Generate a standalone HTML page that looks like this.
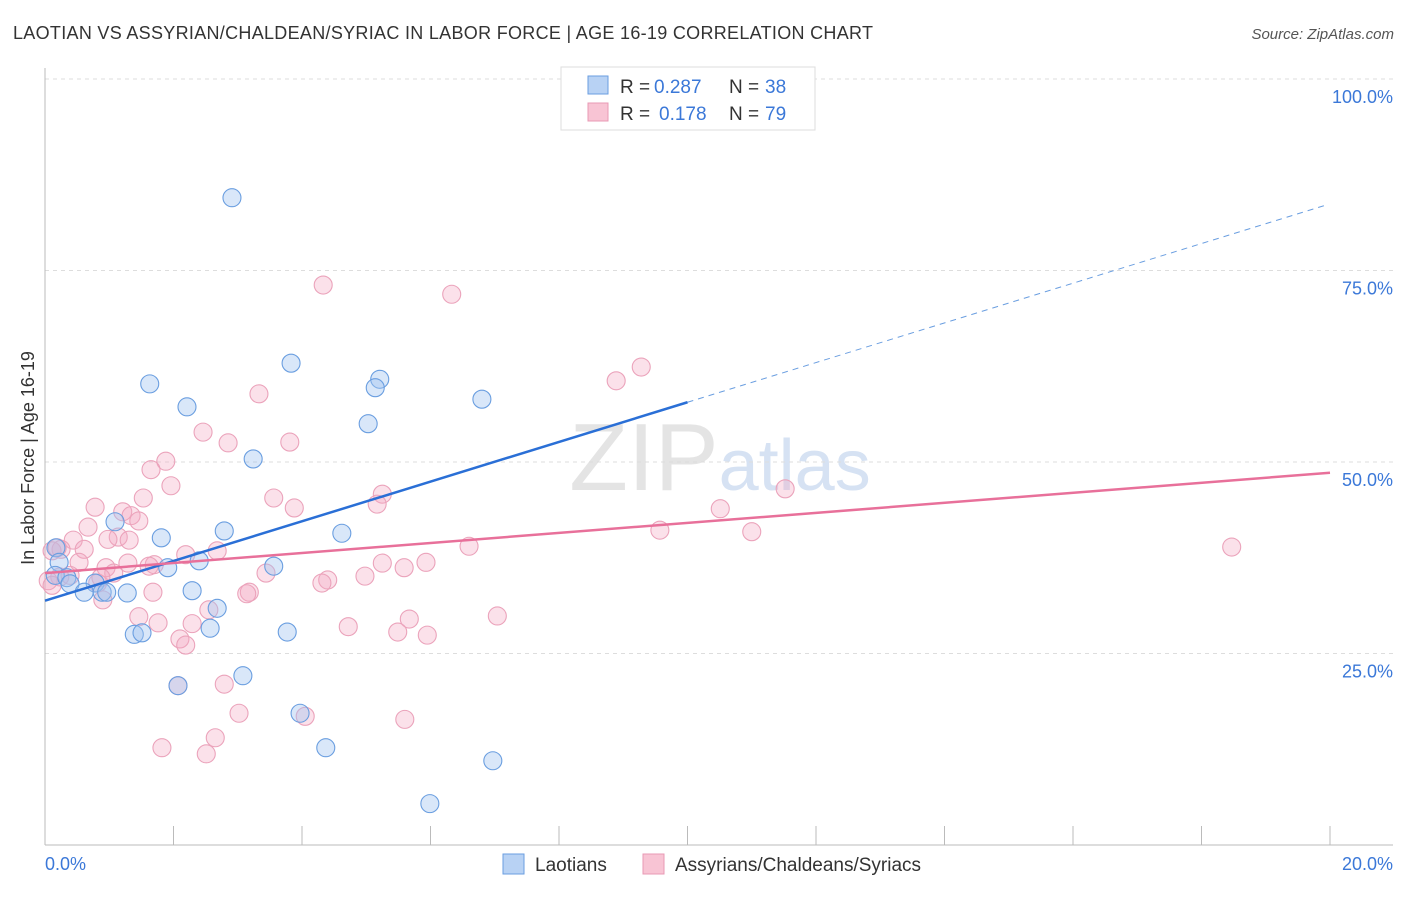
<!DOCTYPE html>
<html><head><meta charset="utf-8"><style>
body{margin:0;background:#fff;font-family:"Liberation Sans",sans-serif}
svg text{font-family:"Liberation Sans",sans-serif}
</style></head><body>
<svg width="1406" height="892" viewBox="0 0 1406 892" id="c">
<text x="13" y="39" font-size="18" fill="#333" textLength="860" lengthAdjust="spacing">LAOTIAN VS ASSYRIAN/CHALDEAN/SYRIAC IN LABOR FORCE | AGE 16-19 CORRELATION CHART</text>
<text x="1394" y="39" font-size="15" fill="#555" text-anchor="end" font-style="italic">Source: ZipAtlas.com</text>
<text x="720" y="490" font-size="96" text-anchor="middle" fill="#e4e4e4" font-family="Liberation Serif"><tspan>ZIP</tspan><tspan fill="#d6e2f3" font-family="Liberation Sans" font-size="72">atlas</tspan></text>
<text transform="translate(34,458) rotate(-90)" font-size="18" fill="#333" text-anchor="middle">In Labor Force | Age 16-19</text>
<g id="grid"></g><g id="marks"></g><g id="lines"></g>
<g>
<rect x="561" y="67" width="254" height="63" fill="#fff" stroke="#ddd"/>
<rect x="588" y="76" width="20" height="18" fill="#b8d2f4" stroke="#6a9ee0"/>
<rect x="588" y="103" width="20" height="18" fill="#f8c4d4" stroke="#e89ab4"/>
<text x="620" y="93" font-size="19" fill="#333">R =</text>
<text x="654" y="93" font-size="19" fill="#3b78d8">0.287</text>
<text x="729" y="93" font-size="19" fill="#333">N =</text>
<text x="765" y="93" font-size="19" fill="#3b78d8">38</text>
<text x="620" y="120" font-size="19" fill="#333">R =</text>
<text x="659" y="120" font-size="19" fill="#3b78d8">0.178</text>
<text x="729" y="120" font-size="19" fill="#333">N =</text>
<text x="765" y="120" font-size="19" fill="#3b78d8">79</text>
</g>
<g>
<rect x="503" y="854" width="21" height="20" fill="#b8d2f4" stroke="#6a9ee0"/>
<text x="535" y="871" font-size="19" fill="#333">Laotians</text>
<rect x="643" y="854" width="21" height="20" fill="#f8c4d4" stroke="#e89ab4"/>
<text x="675" y="871" font-size="19" fill="#333">Assyrians/Chaldeans/Syriacs</text>
</g>
</svg>
<script>
const yTicks=[25,50,75,100];
const yTickLabels=["25.0%","50.0%","75.0%","100.0%"];
const xTicks=[0,2,4,6,8,10,12,14,16,18,20];
const laoX=[2.91,3.83,1.63,5.21,5.14,2.21,6.80,5.03,3.24,1.09,2.79,1.81,4.62,0.17,0.22,2.40,1.91,3.56,0.16,0.34,0.78,0.39,0.61,0.89,1.28,0.96,2.29,2.68,2.57,1.39,1.51,3.77,3.08,2.07,3.97,4.37,6.97,5.99];
const laoY=[84.5,62.9,60.2,60.8,59.7,57.2,58.2,55.0,50.4,42.2,41.0,40.1,40.7,38.8,36.9,37.1,36.2,36.4,35.2,34.9,34.2,34.1,33.0,33.0,32.9,33.0,33.2,30.9,28.3,27.5,27.7,27.8,22.1,20.8,17.2,12.7,11.0,5.4];
const asyX=[4.33,6.33,9.28,8.89,3.33,2.46,2.85,3.81,1.88,1.65,1.96,1.53,3.56,0.78,3.88,5.25,5.17,11.52,10.51,1.21,1.34,1.46,0.67,1.14,9.57,11.00,0.44,0.98,1.31,0.25,0.61,0.11,6.60,18.47,2.19,2.68,0.53,1.70,1.29,1.62,0.95,5.93,5.25,5.59,3.44,1.07,4.98,4.40,4.31,0.05,0.23,0.82,0.90,3.18,3.14,1.68,2.55,1.46,1.76,2.29,7.04,5.67,4.72,5.49,5.95,2.10,2.19,2.07,2.79,3.02,4.05,5.60,2.65,1.82,2.51,0.87,0.19,0.11,0.39];
const asyY=[73.1,71.9,62.4,60.6,58.9,53.9,52.5,52.6,50.1,49.0,46.9,45.3,45.3,44.1,44.0,45.8,44.5,46.5,43.9,43.5,43.0,42.3,41.5,40.2,41.1,40.9,39.8,39.9,39.8,38.6,38.6,38.4,39.0,38.9,37.9,38.4,36.9,36.6,36.8,36.4,36.2,36.9,36.8,36.2,35.5,35.5,35.1,34.6,34.2,34.5,35.0,34.2,32.0,33.0,32.8,33.0,30.7,29.8,29.0,28.9,29.9,29.5,28.5,27.8,27.4,26.9,26.1,20.8,21.0,17.2,16.8,16.4,14.0,12.7,11.9,34.9,38.8,33.9,35.2];
const laoFit=[31.9,2.59]; // intercept, slope
const asyFit=[35.5,0.655];
const NS="http://www.w3.org/2000/svg";
const X=v=>45+v*64.25, Y=v=>845-v*7.66;
function mk(p,t,a){const e=document.createElementNS(NS,t);for(const k in a)e.setAttribute(k,a[k]);p.appendChild(e);return e;}
const grid=document.getElementById('grid'),marks=document.getElementById('marks'),lines=document.getElementById('lines');
yTicks.forEach((t,i)=>{
 const l=mk(grid,'line',{x1:45,x2:1393,y1:Y(t),y2:Y(t),stroke:'#ddd','stroke-dasharray':'4,4'});
 
 
 const tx=mk(grid,'text',{x:1393,y:Y(t)+24,'font-size':18,fill:'#3b78d8','text-anchor':'end'});
 tx.textContent=yTickLabels[i];
 
 
});
const ax=mk(grid,'line',{x1:45,x2:45,y1:68,y2:845,stroke:'#bbb'});


const bx=mk(grid,'line',{x1:45,x2:1393,y1:845,y2:845,stroke:'#bbb'});


xTicks.forEach(t=>{const l=mk(grid,'line',{x1:X(t),x2:X(t),y1:826,y2:845,stroke:'#bbb'});
 
 });
[[0,"0.0%",'start',45],[20,"20.0%",'end',1393]].forEach(([v,s,a,px])=>{const t=mk(grid,'text',{x:px,y:870,'font-size':18,fill:'#3b78d8','text-anchor':a});t.textContent=s;
 
 });
function pts(xs,ys,fill,stroke,name){xs.forEach((x,i)=>{const c=mk(marks,'circle',{cx:X(x),cy:Y(ys[i]),r:9,fill:fill,stroke:stroke,'stroke-width':1.1});
 
 });}
pts(asyX,asyY,'rgba(244,170,195,0.35)','#eba3bb','assyrian-point');
pts(laoX,laoY,'rgba(160,196,240,0.4)','#6a9ee0','laotian-point');
const f=(fit,x)=>fit[0]+fit[1]*x;
let l1=mk(lines,'line',{x1:X(0),y1:Y(f(laoFit,0)),x2:X(10),y2:Y(f(laoFit,10)),stroke:'#2a6fd6','stroke-width':2.5});


let l2=mk(lines,'line',{x1:X(10),y1:Y(f(laoFit,10)),x2:X(19.92),y2:Y(f(laoFit,19.92)),stroke:'#6a9ee0','stroke-width':1,'stroke-dasharray':'6,5'});


let l3=mk(lines,'line',{x1:X(0),y1:Y(f(asyFit,0)),x2:X(20),y2:Y(f(asyFit,20)),stroke:'#e8709a','stroke-width':2.5});


</script>
</body></html>
